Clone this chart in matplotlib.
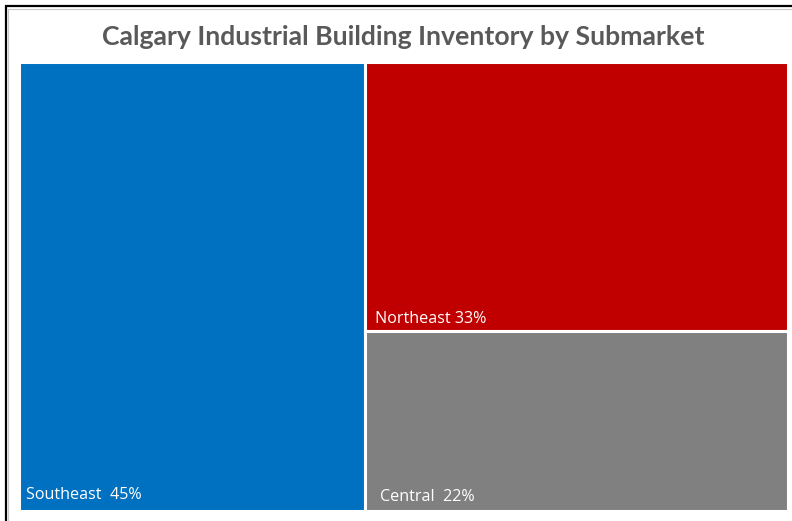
import matplotlib.pyplot as plt
from matplotlib.patches import Rectangle

# Share of industrial building inventory by submarket
submarkets = ["Southeast", "Northeast", "Central"]
shares = [45, 33, 22]
labels = ["Southeast  45%", "Northeast 33%", "Central  22%"]
colors = ["#0070C0", "#C00000", "#808080"]

W, H = 792, 521
fig = plt.figure(figsize=(W / 100, H / 100), dpi=100)
fig.patch.set_facecolor("white")

# outer frame (runs off the right and bottom edges)
fig.add_artist(Rectangle((6 / W, -0.05), 1.2, 1.0 - 6 / H + 0.05, transform=fig.transFigure,
                         fill=False, edgecolor="black", linewidth=1.6))
fig.add_artist(Rectangle((8 / W, -0.05), 1.2, 1.0 - 8.5 / H + 0.05, transform=fig.transFigure,
                         fill=False, edgecolor="#c8c8c8", linewidth=0.8))

fig.text(0.5 * (100 + 707) / W, 1 - 37 / H, "Calgary Industrial Building Inventory by Submarket",
         ha="center", va="center", fontsize=19.2, fontweight="bold", color="#595959",
         family="Lato")

ax = fig.add_axes([19 / W, 1 - 511 / H, (788 - 19) / W, (511 - 62) / H])
ax.set_xlim(0, 1)
ax.set_ylim(0, 1)
ax.axis("off")

total = sum(shares)
left_w = shares[0] / total
right_total = shares[1] + shares[2]
top_h = shares[1] / right_total

# squarified-style split: first tile takes the left column, the rest stack on the right
rects = [
    (0, 0, left_w, 1),
    (left_w, 1 - top_h, 1 - left_w, top_h),
    (left_w, 0, 1 - left_w, 1 - top_h),
]
for (x, y, w, h), c in zip(rects, colors):
    ax.add_patch(Rectangle((x, y), w, h, facecolor=c, edgecolor="white", linewidth=2.2))

pad_x = 0.009
text_kw = dict(color="white", fontsize=11.6, family="Open Sans", va="bottom", ha="left")
ax.text(rects[0][0] + pad_x, rects[0][1] + 0.017, labels[0], **text_kw)
ax.text(rects[1][0] + pad_x + 0.004, rects[1][1] + 0.010, labels[1], **text_kw)
ax.text(rects[2][0] + pad_x + 0.01, rects[2][1] + 0.014, labels[2], **text_kw)

fig.savefig("out.png", dpi=100, facecolor="white")
